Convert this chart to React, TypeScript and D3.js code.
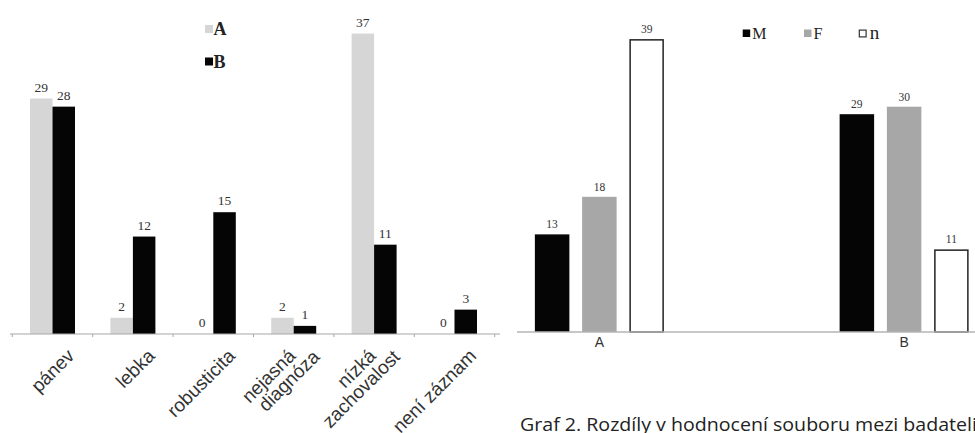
import React from "react";
import * as d3 from "d3";

const leftCategories = ["pánev", "lebka", "robusticita", "nejasná\ndiagnóza", "nízká\nzachovalost", "není záznam"];
const leftSeries = ["A", "B"];
const leftA = [29, 2, 0, 2, 37, 0];
const leftB = [28, 12, 15, 1, 11, 3];

const rightCategories = ["A", "B"];
const rightSeries = ["M", "F", "n"];
const rightM = [13, 29];
const rightF = [18, 30];
const rightN = [39, 11];

const caption = "Graf 2. Rozdíly v hodnocení souboru mezi badateli";

const leftColors: Record<string, string> = { A: "#d6d6d6", B: "#050505" };
const rightFill: Record<string, string> = { M: "#050505", F: "#a7a7a7", n: "#ffffff" };

export default function App() {
  const W = 975, H = 433;

  // Left chart
  const xL = d3.scaleBand<string>().domain(leftCategories).range([12.3, 494.7]).padding(0);
  const xLi = d3.scaleBand<string>().domain(leftSeries).range([-22.5, 22.5]).padding(0);
  const yL = d3.scaleLinear().domain([0, 40]).range([334, 334 - 8.12 * 40]);
  const leftVals: Record<string, number[]> = { A: leftA, B: leftB };

  // Right chart
  const xR = d3.scaleBand<string>().domain(rightCategories).range([447, 1056.5]).padding(0);
  const xRi = d3.scaleBand<string>().domain(rightSeries).range([-64.5, 64.5]).paddingInner(0.27).paddingOuter(0);
  const yR = d3.scaleLinear().domain([0, 40]).range([332, 332 - 7.51 * 40]);
  const rightVals: Record<string, number[]> = { M: rightM, F: rightF, n: rightN };

  const serif = "'Liberation Serif', 'DejaVu Serif', serif";
  const sans = "'Liberation Sans', Arial, sans-serif";

  return (
    <svg width={W} height={H} style={{ position: "absolute", left: 0, top: 0, background: "#fff" }}>
      <rect x={0} y={0} width={W} height={H} fill="#fff" />
      {/* LEFT CHART */}
      <g>
        {leftSeries.map((s) =>
          leftCategories.map((c, i) => {
            const v = leftVals[s][i];
            const x0 = (xL(c) as number) + xL.bandwidth() / 2 + (xLi(s) as number);
            return (
              <g key={s + c}>
                {v > 0 && (
                  <rect x={x0} y={yL(v)} width={xLi.bandwidth()} height={yL(0) - yL(v)} fill={leftColors[s]} />
                )}
                <text
                  x={x0 + xLi.bandwidth() / 2}
                  y={yL(v) - 7}
                  textAnchor="middle"
                  fontFamily={serif}
                  fontSize={13.5}
                  fill="#333"
                >
                  {v}
                </text>
              </g>
            );
          })
        )}
        <line x1={10} x2={500} y1={yL(0)} y2={yL(0)} stroke="#a8a8a8" strokeWidth={1.2} />
        {d3.range(leftCategories.length + 1).map((i) => {
          const x = 12.3 + i * xL.step();
          return <line key={i} x1={x} x2={x} y1={yL(0)} y2={yL(0) + 3} stroke="#a8a8a8" strokeWidth={1} />;
        })}
        {leftCategories.map((c) => {
          const cx = (xL(c) as number) + xL.bandwidth() / 2;
          const lines = c.split("\n");
          if (lines.length === 1) {
            return (
              <text
                key={c}
                transform={`translate(${cx + 23},${357}) rotate(-45)`}
                textAnchor="end"
                fontFamily={sans}
                fontSize={19}
                fill="#333"
              >
                {c}
              </text>
            );
          }
          return (
            <g key={c}>
              <text
                transform={`translate(${cx + 3},${357}) rotate(-45)`}
                textAnchor="end"
                fontFamily={sans}
                fontSize={19}
                fill="#333"
              >
                {lines[0]}
              </text>
              <text
                transform={`translate(${cx + 27},${358}) rotate(-45)`}
                textAnchor="end"
                fontFamily={sans}
                fontSize={19}
                fill="#333"
              >
                {lines[1]}
              </text>
            </g>
          );
        })}
        {/* legend left */}
        {leftSeries.map((s, i) => (
          <g key={s} transform={`translate(205,${25 + i * 32.5})`}>
            <rect x={0} y={0} width={8} height={8} fill={leftColors[s]} />
            <text x={8.5} y={10} fontFamily={serif} fontWeight="bold" fontSize={18} fill="#222">
              {s}
            </text>
          </g>
        ))}
      </g>

      {/* RIGHT CHART */}
      <g>
        {rightSeries.map((s) =>
          rightCategories.map((c, i) => {
            const v = rightVals[s][i];
            const x0 = (xR(c) as number) + xR.bandwidth() / 2 + (xRi(s) as number);
            const isN = s === "n";
            return (
              <g key={s + c}>
                <rect
                  x={isN ? x0 + 0.75 : x0}
                  y={isN ? yR(v) + 0.75 : yR(v)}
                  width={isN ? xRi.bandwidth() - 1.5 : xRi.bandwidth()}
                  height={isN ? yR(0) - yR(v) - 0.75 : yR(0) - yR(v)}
                  fill={rightFill[s]}
                  stroke={isN ? "#222" : "none"}
                  strokeWidth={isN ? 1.5 : 0}
                />
                <text
                  x={x0 + xRi.bandwidth() / 2}
                  y={yR(v) - 6}
                  textAnchor="middle"
                  fontFamily={serif}
                  fontSize={11.5}
                  fill="#333"
                >
                  {v}
                </text>
              </g>
            );
          })
        )}
        <line x1={517} x2={975} y1={yR(0)} y2={yR(0)} stroke="#b5b5b5" strokeWidth={1.5} />
        {rightCategories.map((c) => (
          <text
            key={c}
            x={(xR(c) as number) + xR.bandwidth() / 2}
            y={347}
            textAnchor="middle"
            fontFamily={sans}
            fontSize={14}
            fill="#333"
          >
            {c}
          </text>
        ))}
        {/* legend right */}
        {rightSeries.map((s, i) => {
          const lx = [742.7, 804, 858.7][i];
          return (
            <g key={s} transform={`translate(${lx},29.5)`}>
              <rect
                x={s === "n" ? 0.6 : 0}
                y={s === "n" ? 0.6 : 0}
                width={s === "n" ? 6.8 : 7.5}
                height={s === "n" ? 6.8 : 7.5}
                fill={rightFill[s]}
                stroke={s === "n" ? "#333" : "none"}
                strokeWidth={1.2}
              />
              <text x={s === "n" ? 11 : 9.5} y={9.5} fontFamily={serif} fontSize={s === "n" ? 19 : 16} fill="#222">
                {s}
              </text>
            </g>
          );
        })}
        <text x={520} y={431} fontFamily="'Open Sans', 'Noto Sans', sans-serif" fontSize={18.5} fill="#222" textLength={457} lengthAdjust="spacingAndGlyphs">
          {caption}
        </text>
      </g>
    </svg>
  );
}
